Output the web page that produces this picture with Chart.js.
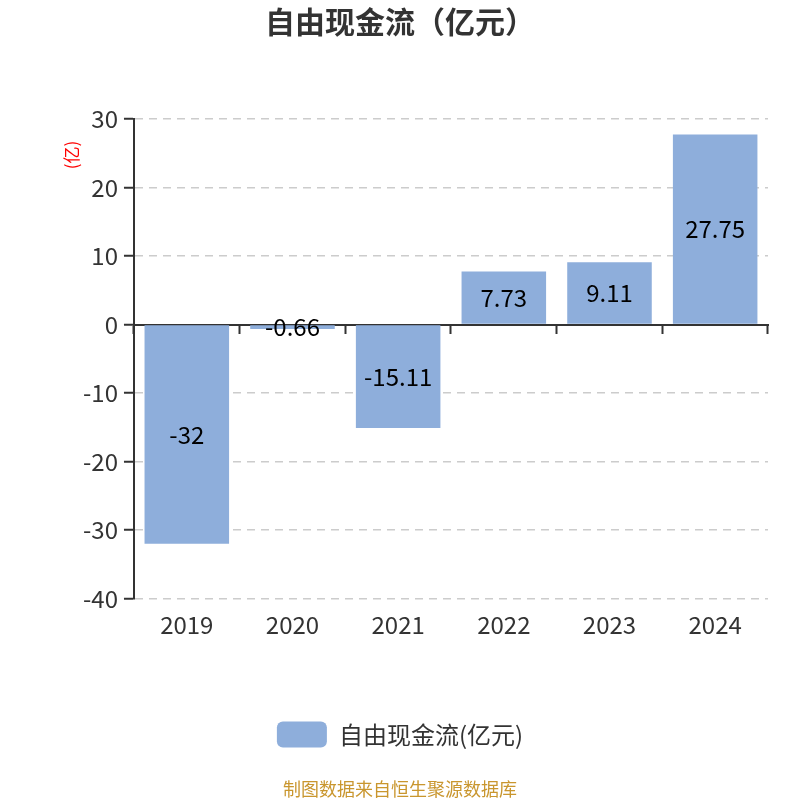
<!DOCTYPE html>
<html>
<head>
<meta charset="utf-8">
<script src="https://cdn.jsdelivr.net/npm/chart.js@4.4.0/dist/chart.umd.min.js"></script>
<style>
    html, body { margin: 0; padding: 0; background: #fff; }
    #wrap { width: 800px; height: 800px; }
</style>
</head>
<body>
<div id="wrap"><canvas id="fcfChart"></canvas></div>
<script>
// 数据
const years = ['2019', '2020', '2021', '2022', '2023', '2024'];
const freeCashFlow = [-32, -0.66, -15.11, 7.73, 9.11, 27.75];
const seriesName = '自由现金流(亿元)';
const unitText = '(亿)';

const FONT = '"Noto Sans CJK SC", "Noto Sans", sans-serif';
const BAR_COLOR = '#8eaedb';

// 柱内数值标签
const barLabels = {
    id: 'barLabels',
    afterDatasetsDraw(chart) {
        const ctx = chart.ctx;
        const meta = chart.getDatasetMeta(0);
        ctx.save();
        ctx.font = '24px ' + FONT;
        ctx.fillStyle = '#000';
        ctx.textAlign = 'center';
        ctx.textBaseline = 'middle';
        meta.data.forEach((bar, i) => {
            const p = bar.getProps(['x', 'y', 'base'], true);
            ctx.fillText(String(freeCashFlow[i]), p.x, (p.y + p.base) / 2);
        });
        ctx.restore();
    }
};

// 纵轴单位（红色竖排）
const unitLabel = {
    id: 'unitLabel',
    afterDraw(chart) {
        const ctx = chart.ctx;
        const area = chart.chartArea;
        ctx.save();
        ctx.translate(area.left - 62, area.top + 36);
        ctx.rotate(-Math.PI / 2);
        ctx.font = '17px ' + FONT;
        ctx.fillStyle = '#ff0000';
        ctx.textAlign = 'center';
        ctx.textBaseline = 'middle';
        ctx.fillText(unitText, 0, 0);
        ctx.restore();
    }
};

const ctx = document.getElementById('fcfChart').getContext('2d');
const fcfChart = new Chart(ctx, {
    type: 'bar',
    data: {
        labels: years,
        datasets: [{
            label: seriesName,
            data: freeCashFlow,
            backgroundColor: BAR_COLOR,
            borderWidth: 0,
            barPercentage: 0.8,
            categoryPercentage: 1.0,
            xAxisID: 'x',
            yAxisID: 'y'
        }]
    },
    options: {
        responsive: true,
        maintainAspectRatio: false,
        animation: false,
        layout: {
            padding: { left: 32, right: 32, top: 2, bottom: 0 }
        },
        scales: {
            x: {
                position: 'bottom',
                grid: { display: false },
                border: { display: false },
                ticks: {
                    color: '#333',
                    padding: 4,
                    font: { family: FONT, size: 24 }
                },
                afterFit(scale) {
                    scale.height += 58;
                }
            },
            // 零轴
            x2: {
                type: 'category',
                labels: years,
                position: { y: 0 },
                offset: true,
                grid: {
                    offset: true,
                    drawOnChartArea: false,
                    drawTicks: true,
                    tickLength: 8,
                    tickWidth: 2,
                    tickColor: '#333'
                },
                border: { display: true, color: '#333', width: 2 },
                ticks: { display: false }
            },
            y: {
                min: -40,
                max: 30,
                ticks: {
                    stepSize: 10,
                    color: '#333',
                    padding: 6,
                    font: { family: FONT, size: 24 }
                },
                grid: {
                    color: '#cccccc',
                    lineWidth: 1.5,
                    tickColor: '#333',
                    tickLength: 10,
                    tickWidth: 2
                },
                border: { display: true, color: '#333', width: 2, dash: [8, 6] },
                afterFit(scale) {
                    scale.width += 45;
                }
            }
        },
        plugins: {
            title: {
                display: true,
                text: '自由现金流（亿元）',
                color: '#333',
                padding: { top: 2, bottom: 79 },
                font: { family: FONT, size: 30, weight: 'bold' }
            },
            subtitle: {
                display: true,
                position: 'bottom',
                text: '制图数据来自恒生聚源数据库',
                color: '#c9962e',
                padding: { top: 21, bottom: 0 },
                font: { family: FONT, size: 18 }
            },
            legend: {
                position: 'bottom',
                labels: {
                    boxWidth: 50,
                    boxHeight: 26,
                    useBorderRadius: true,
                    borderRadius: 6,
                    color: '#333',
                    padding: 20,
                    font: { family: FONT, size: 24 }
                }
            },
            tooltip: { enabled: false }
        }
    },
    plugins: [barLabels, unitLabel]
});
</script>
</body>
</html>
